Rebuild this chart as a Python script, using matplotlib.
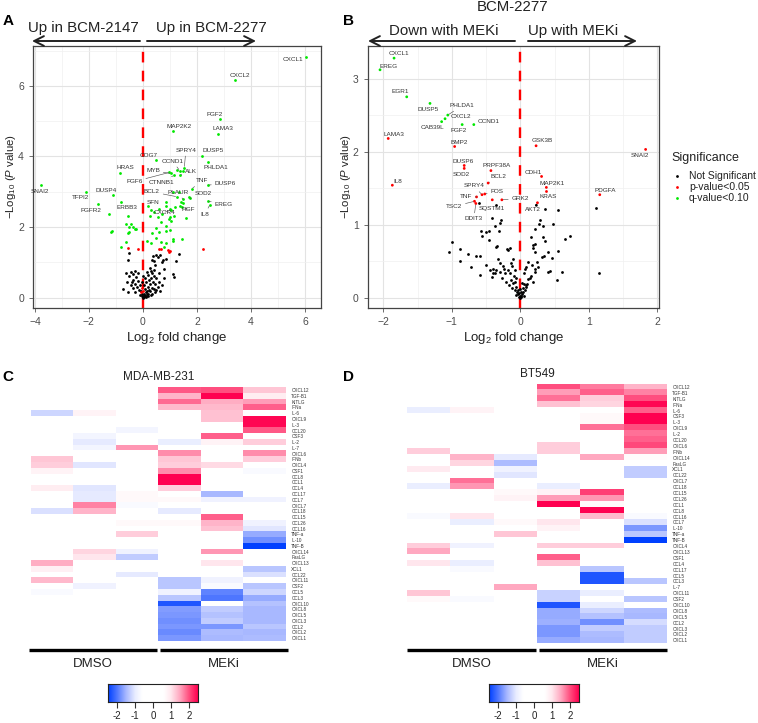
import numpy as np
import matplotlib
matplotlib.use("Agg")
import matplotlib.pyplot as plt
from matplotlib.colors import LinearSegmentedColormap

plt.rcParams['font.family'] = ['Liberation Sans', 'DejaVu Sans']
plt.rcParams['mathtext.fontset'] = 'custom'
plt.rcParams['mathtext.rm'] = 'Liberation Sans'
plt.rcParams['mathtext.it'] = 'Liberation Sans:italic'

# ---------------- Panel A data ----------------
a_lab_names = ['CXCL1', 'CXCL2', 'FGF2', 'MAP2K2', 'LAMA3', 'DUSP5', 'COG7', 'PHLDA1', 'SPRY4', 'CCND1',
               'HRAS', 'MYB', 'ALK', 'FGF6', 'CTNNB1', 'SNAI2', 'TFPI2', 'DUSP4', 'TNF', 'DUSP6',
               'BCL2', 'PLAUR', 'SOD2', 'FGFR2', 'ERBB3', 'SFN', 'HGF', 'CXCR4', 'EREG', 'IL8']
a_lab_x = [6.04, 3.39, 2.86, 1.13, 2.76, 2.20, 0.48, 2.39, 1.53, 1.36,
           -0.85, 1.04, 1.36, 0.98, 1.16, -3.78, -2.11, -1.10, 1.80, 2.39,
           1.26, 1.47, 1.75, -1.68, -0.57, 0.85, 1.46, 1.04, 2.39, 2.48]
a_lab_y = [6.82, 6.16, 5.07, 4.73, 4.65, 4.02, 3.90, 3.83, 3.68, 3.60,
           3.54, 3.52, 3.48, 3.55, 3.47, 3.20, 3.00, 2.92, 3.08, 3.19,
           2.86, 2.80, 2.82, 2.65, 2.32, 2.61, 2.57, 2.48, 2.74, 2.64]
a_lab_tx = [5.54, 3.57, 2.64, 1.34, 2.95, 2.61, 0.20, 2.70, 1.59, 1.10,
            -0.66, 0.37, 1.78, -0.32, 0.67, -3.81, -2.33, -1.35, 2.17, 3.05,
            0.33, 1.30, 2.22, -1.93, -0.61, 0.39, 1.68, 0.79, 2.99, 2.30]
a_lab_ty = [6.75, 6.28, 5.20, 4.84, 4.78, 4.18, 4.02, 3.69, 4.18, 3.87,
            3.68, 3.59, 3.57, 3.29, 3.27, 3.02, 2.84, 3.03, 3.31, 3.23,
            3.00, 2.99, 2.94, 2.46, 2.56, 2.70, 2.50, 2.42, 2.65, 2.37]
a_lab_seg = ['SPRY4', 'CCND1', 'MYB', 'ALK', 'FGF6', 'CTNNB1', 'TNF', 'DUSP6', 'BCL2', 'PLAUR',
             'SOD2', 'HGF', 'CXCR4', 'EREG', 'IL8']

a_green_x = [-0.81, -0.44, -0.35, -0.26, -0.57, -1.13, -1.19, -0.63, -0.81, -1.25, 0.30, 0.42, 0.27, 0.54,
             0.85, 1.00, 1.16, 1.00, 0.67, 0.87, 1.05, 0.48, 0.33, 0.60, 0.85, 1.00, 0.48, 0.30, 0.67, 1.10,
             1.12, 0.87, 1.44, 0.79, 1.41, 1.36, 1.20, 1.59, 1.47, 1.10, 1.33, 1.70, 1.25, 1.47, 0.60, 0.20,
             -0.63, -0.51, -0.29, -0.51, 0.15, 0.72, 0.95]
a_green_y = [2.72, 2.09, 1.99, 1.94, 1.82, 1.90, 1.87, 1.59, 1.45, 2.36, 2.48, 2.44, 2.31, 2.30,
             2.72, 2.50, 2.32, 2.30, 2.15, 2.03, 2.18, 1.97, 1.82, 1.87, 1.90, 1.92, 1.68, 1.56, 1.59, 1.65,
             1.61, 1.56, 1.66, 1.45, 2.72, 2.61, 2.57, 2.25, 2.69, 3.00, 3.00, 2.84, 3.62, 3.58, 2.50, 2.60,
             2.09, 2.01, 1.95, 1.86, 1.62, 2.38, 2.22]
a_red_x = [-0.54, -0.20, 0.59, 0.65, 0.93, 0.99, 2.23, 0.95, -0.05, 0.02, -0.08]
a_red_y = [1.40, 1.37, 1.37, 1.39, 1.36, 1.33, 1.39, 1.30, 0.28, 0.20, 0.15]
a_black_x = [1.34, 1.21, 0.87, 0.73, 0.62, 0.37, 0.33, 0.42, -0.51, -0.57, 0.79, 1.10, 1.15, 0.79, -0.75, -0.63,
             0.48, 0.55, 0.70, 0.45, -0.45, -0.38, -0.30, -0.20, -0.25, -0.35, -0.42, -0.50, -0.28, -0.18,
             -0.12, -0.22, -0.35, -0.45, -0.15, -0.08, -0.30, -0.55, -0.60, 0.15, 0.20, 0.28, 0.35, 0.42, 0.50,
             0.30, 0.22, 0.12, 0.38, 0.46, 0.25, 0.18, 0.32, 0.40, 0.50, 0.55, 0.60, 0.08, 0.10, 0.15, 0.05,
             0.02, 0.08, 0.12, 0.20, 0.25, 0.28, 0.35, 0.22, 0.16, 0.05, -0.02, -0.05, 0.00, 0.03, 0.10, 0.18,
             -0.10, 0.45, 0.62, 0.70, 0.03, -0.03, 0.07, 0.02, 0.40, 0.60, 0.25]
a_black_y = [1.23, 1.03, 1.11, 1.07, 1.21, 1.18, 1.06, 1.03, 1.26, 1.08, 0.82, 0.68, 0.59, 0.56, 0.25, 0.71,
             1.21, 1.15, 1.00, 0.92, 0.72, 0.66, 0.75, 0.70, 0.58, 0.50, 0.45, 0.62, 0.40, 0.48,
             0.35, 0.30, 0.28, 0.35, 0.22, 0.18, 0.15, 0.15, 0.45, 0.72, 0.65, 0.75, 0.70, 0.62, 0.55,
             0.55, 0.50, 0.45, 0.45, 0.38, 0.38, 0.30, 0.28, 0.25, 0.22, 0.30, 0.45, 0.25, 0.15, 0.10, 0.08,
             0.03, 0.05, 0.04, 0.12, 0.18, 0.08, 0.12, 0.22, 0.20, 0.12, 0.05, 0.10, 0.00, 0.01, 0.02, 0.06,
             0.08, 0.15, 0.20, 0.35, 0.35, 0.45, 0.55, 0.62, 0.80, 0.70, 0.85]

# ---------------- Panel B data ----------------
b_lab_names = ['CXCL1', 'EREG', 'EGR1', 'DUSP5', 'PHLDA1', 'CXCL2', 'CAB39L', 'FGF2', 'CCND1',
               'LAMA3', 'BMP2', 'GSK3B', 'SNAI2', 'DUSP6', 'SOD2', 'PRPF38A', 'CDH1', 'IL8', 'BCL2',
               'MAP2K1', 'PDGFA', 'FOS', 'SPRY4', 'TNF', 'GRK2', 'SQSTM1', 'KRAS', 'TSC2', 'DDIT3', 'AKT2']
b_lab_group = ['q'] * 9 + ['p'] * 20 + ['n']
b_lab_x = [-1.845, -2.05, -1.66, -1.32, -1.06, -1.10, -1.15, -0.85, -0.68,
           -1.93, -0.96, 0.23, 1.83, -0.82, -0.82, -0.43, 0.31, -1.87, -0.47,
           0.38, 1.16, -0.52, -0.56, -0.64, -0.27, -0.41, 0.25, -0.67, -0.65, 0.234]
b_lab_y = [3.28, 3.12, 2.75, 2.66, 2.50, 2.45, 2.41, 2.37, 2.37,
           2.18, 2.07, 2.08, 2.03, 1.81, 1.77, 1.74, 1.66, 1.54, 1.57,
           1.51, 1.41, 1.42, 1.41, 1.38, 1.34, 1.34, 1.30, 1.32, 1.29, 1.265]
b_lab_tx = [-1.78, -1.93, -1.76, -1.35, -0.85, -0.87, -1.28, -0.90, -0.46,
            -1.85, -0.89, 0.32, 1.74, -0.83, -0.87, -0.35, 0.19, -1.79, -0.32,
            0.46, 1.24, -0.34, -0.68, -0.80, 0.00, -0.41, 0.40, -0.97, -0.68, 0.19]
b_lab_ty = [3.35, 3.17, 2.82, 2.57, 2.63, 2.48, 2.33, 2.29, 2.41,
            2.24, 2.13, 2.15, 1.95, 1.87, 1.69, 1.81, 1.72, 1.59, 1.66,
            1.57, 1.47, 1.46, 1.53, 1.38, 1.36, 1.22, 1.38, 1.25, 1.08, 1.21]
b_lab_seg = ['PHLDA1', 'BCL2', 'FOS', 'SPRY4', 'TNF', 'GRK2', 'TSC2', 'DDIT3']

b_red_x = [0.38]
b_red_y = [1.46]
b_black_x = [-0.608, -0.350, 0.365, 0.549, 1.099,
             -0.409, -0.277, -0.292, -0.375, -0.317, -0.569, -0.496, -0.463, -0.560, -0.458, -0.993, -1.042,
             -0.886, -0.765, -0.886, -0.653, -0.594, -0.715, -0.594, -0.507, -0.400, -0.375, -0.409, -0.327,
             -0.302, -0.253, -0.244, -0.181, -0.156, -0.196, -0.350, -0.336, -0.108, -0.131, -0.117, -0.083,
             0.282, 0.272, 0.330, 0.476, 0.219, 0.720, 0.657, 0.330, 0.365, 0.161, 0.184, 0.215, 0.184, 0.209,
             0.403, 0.549, 0.345, 0.311, 0.467, 0.248, 0.175, 0.219, 0.209, 0.257, 0.428, 0.403, 0.613, 0.540,
             1.143, 0.111, 0.088, 0.073, 0.048, 0.053, 0.088,
             -0.131, -0.108, -0.083, -0.058, -0.117, -0.083, -0.050, -0.020, -0.035, -0.010, 0.015, 0.029,
             0.038, 0.063, 0.077, 0.096, -0.058, -0.098, -0.146, -0.181, -0.229, -0.263, -0.204, -0.166,
             -0.035, 0.015, 0.038, 0.111, 0.136, 0.161, 0.184, -0.350, -0.400, -0.292, -0.448, 0.000, 0.010,
             -0.020, 0.050, -0.060, 0.030, 0.000]
b_black_y = [1.292, 1.265, 1.219, 1.206, 1.233,
             1.091, 1.060, 1.028, 0.978, 0.914, 0.914, 0.901, 0.914, 0.846, 0.787, 0.764, 0.619,
             0.669, 0.605, 0.505, 0.573, 0.569, 0.423, 0.310, 0.446, 0.387, 0.341, 0.287, 0.524,
             0.478, 0.432, 0.387, 0.651, 0.687, 0.669, 0.696, 0.705, 0.524, 0.469, 0.432, 0.378,
             1.060, 1.015, 0.982, 1.015, 0.946, 0.846, 0.810, 0.832, 0.774, 0.832, 0.719, 0.733, 0.674, 0.628,
             0.619, 0.637, 0.573, 0.551, 0.538, 0.491, 0.446, 0.392, 0.355, 0.423, 0.364, 0.346, 0.355, 0.241,
             0.338, 0.491, 0.423, 0.392, 0.338, 0.183, 0.173,
             0.241, 0.196, 0.218, 0.150, 0.128, 0.105, 0.082, 0.060, 0.050, 0.023, 0.014, 0.050,
             0.082, 0.105, 0.150, 0.183, 0.265, 0.296, 0.333, 0.378, 0.333, 0.265, 0.218, 0.173,
             0.105, 0.082, 0.128, 0.251, 0.265, 0.296, 0.218, 0.378, 0.338, 0.355, 0.378, 0.000, 0.030,
             0.010, 0.030, 0.040, 0.200, 0.120]

# ---------------- Heatmap data ----------------
c_rows = ['CXCL12', 'TGF-B1', 'KITLG', 'IFNa', 'IL-6', 'CXCL9', 'IL-3', 'CCL20', 'CSF3', 'IL-2', 'IL-7',
          'CXCL6', 'IFNb', 'CXCL4', 'CSF1', 'CCL8', 'CCL1', 'CCL4', 'CCL17', 'CCL7', 'CXCL7', 'CCL18',
          'CCL15', 'CCL26', 'CCL16', 'TNF-a', 'IL-10', 'TNF-B', 'CXCL14', 'FasLG', 'CXCL13', 'XCL1',
          'CCL22', 'CXCL11', 'CSF2', 'CCL5', 'CCL3', 'CXCL10', 'CXCL8', 'CXCL5', 'CXCL3', 'CCL2', 'CXCL2', 'CXCL1']
c_vals = [
    [0, 0, 0, 1.95, 2.0, 1.25], [0, 0, 0, 1.4, 2.5, 0.9], [0, 0, 0, 1.85, 1.45, 1.55], [0, 0, 0, 1.35, 1.35, 1.9],
    [-1.2, 0.8, 0, 0, 1.3, 0], [0, 0, 0, 0, 1.3, 2.45], [0, 0, 0, 0, 0, 2.45], [0, 0, -0.8, 0, 0, 1.95],
    [0, -0.8, 0, 0, 1.9, 0], [0, -1.0, 0, -0.95, 0.8, 1.2], [0, -0.8, 1.6, 0, 0, 0], [0, 0, 0, 1.65, 0, 1.65],
    [1.25, 0, 0, 1.25, 0, 1.2], [1.2, -1.05, 0, 1.2, 1.1, 0], [0.8, 0, 0, 1.65, 0, -0.7], [0, 0, 0, 2.5, 0, 0],
    [0, 0, 0, 2.5, 0, 0], [0.9, -1.05, 0, 1.2, 0, 0], [0, -1.0, 0.7, 0, -1.5, 0], [0, -1.0, 0.7, 0.7, -0.85, -0.85],
    [0, 1.7, -0.7, 0, 0, 0], [-1.1, 1.4, 0, -1.0, 0, 0], [0, 0, 0, 0, 1.9, 0], [0, 0, 0.7, 0.7, 1.4, -0.85],
    [0, 0, 0, 0, 1.3, -1.05], [0, 0, 1.2, 0, 0, -1.6], [0, 0, 0, 0, 0, -1.8], [0, 0, 0, 0, 0, -2.5],
    [0, 1.15, -0.85, 0, 1.6, 0], [0, 1.0, -1.3, 0, 0, 0], [1.45, 0, 0, 0, 1.0, 0], [0.85, 0, 0, 0, 0, -1.35],
    [0, 0, -1.0, 0, 0, -1.1], [1.35, 0, 0, -1.35, -0.85, 0], [0, -0.85, 0, -1.35, -0.7, -1.35],
    [-0.7, 0, 0, -0.85, -1.9, -1.2], [0, 0, 0, -1.35, -2.0, -1.6], [0, 0, 0, -2.3, 0, -1.4],
    [0, 0, 0, -1.7, -1.3, -1.5], [0, 0, 0, -1.75, -1.4, -1.5], [0, 0, 0, -1.8, -1.3, -1.5],
    [0, 0, 0, -1.75, -1.75, -1.35], [0, 0, 0, -1.85, -1.45, -1.5], [0, 0, 0, -1.75, -1.5, -1.45]]

d_rows = ['CXCL12', 'TGF-B1', 'KITLG', 'IFNa', 'IL-6', 'CSF3', 'IL-3', 'CXCL9', 'IL-2', 'CCL20', 'CXCL6',
          'IFNb', 'CXCL14', 'FasLG', 'XCL1', 'CCL22', 'CXCL7', 'CCL18', 'CCL15', 'CCL26', 'CCL1', 'CCL8',
          'CCL16', 'CCL7', 'IL-10', 'TNF-a', 'TNF-B', 'CXCL4', 'CXCL13', 'CSF1', 'CCL4', 'CCL17', 'CCL5',
          'CCL3', 'IL-7', 'CXCL11', 'CSF2', 'CXCL10', 'CXCL8', 'CXCL5', 'CCL2', 'CXCL3', 'CXCL2', 'CXCL1']
d_vals = [
    [0, 0, 0, 2.0, 1.75, 1.4], [0, 0, 0, 1.55, 1.9, 1.7], [0, 0, 0, 1.8, 1.2, 2.0], [0, 0, 0, 1.3, 1.15, 2.45],
    [-0.95, 0.8, 0, 0, 0, 1.9], [0, 0, 0, 0, 0.7, 2.5], [0, 0, 0, 0, 0.7, 2.5], [0, 0, 0, 0, 1.8, 2.0],
    [0, 0.6, 0, -0.6, 0, 1.8], [0, 0, 0, 0, 0, 1.9], [0, 0, 0, 1.2, 0, 2.05], [1.2, 0, 0, 1.2, 0, 1.55],
    [0, 1.4, -1.0, 0, 1.5, 0.65], [0, 1.15, -1.45, 0, 0, 0], [0.95, 0, -0.85, 0, 0, -1.3], [0, 0, -1.05, 0, 0, -1.3],
    [0, 1.8, -0.6, 0, 0, 0], [-0.95, 1.6, 0, -0.95, 0, 0], [0, 0, 0.7, 0.8, 2.1, 0], [0, 0, 0.8, 1.55, 1.6, 0],
    [0, 0, 0, 2.5, 0.7, 0], [0, 0, 0, 0, 2.5, 0], [-0.7, 1.0, 0, 0, 1.35, -0.7], [0, -0.95, 0.7, 1.0, 0, -1.1],
    [0, 0, 0, 0.8, 0, -1.75], [0, 0, 1.25, 0, 0, -1.35], [0, 0, 0, 0, 0, -2.5], [1.2, -0.85, 0, 1.2, 1.2, 0],
    [1.5, 0, 0, 0, 0, 0], [0, 0, 0, 1.9, 0, 0], [1.0, -0.95, 0, 1.3, 0, 0], [0, -0.7, 0.6, 0, -1.35, 0],
    [0, 0, 0, 0, -2.3, 0], [0, 0, 0, 0, -2.3, -1.35], [0, -0.6, 1.5, 0, 0, 0], [1.25, 0, 0, -1.25, -0.95, 0],
    [0.7, -0.7, 0, -1.25, 0, -1.35], [0, 0, 0, -2.3, -0.95, 0], [0, 0, 0, -1.6, -1.2, -1.45],
    [0, 0, 0, -1.6, -1.4, -1.5], [0, 0, 0, -1.55, -1.8, -1.15], [0, 0, 0, -1.75, -1.3, -1.3],
    [0, 0, 0, -1.75, -1.45, -1.3], [0, 0, 0, -1.6, -1.5, -1.3]]
group_names = ['DMSO', 'MEKi']
cbar_ticks = [-2, -1, 0, 1, 2]

# ---------------- styling ----------------
W, H = 758, 723
fig = plt.figure(figsize=(W / 100, H / 100), dpi=100)


def rect(l, t, r, b):
    return [l / W, 1 - b / H, (r - l) / W, (b - t) / H]


GREEN = '#00E800'
RED = '#FF0000'
TXT = '#333333'
DOT = 4

cmap = LinearSegmentedColormap.from_list('bwr_custom', [
    (0.00, '#0040FF'), (0.10, '#5078FF'), (0.20, '#A8B8FF'), (0.30, '#E8ECFF'), (0.38, '#FFFFFF'),
    (0.62, '#FFFFFF'), (0.70, '#FFE8EE'), (0.80, '#FFA8C0'), (0.90, '#FF5080'), (1.00, '#FF0050')])


def style_volcano(ax, xt, xminor, yt, yminor):
    ax.set_xticks(xt)
    ax.set_xticks(xminor, minor=True)
    ax.set_yticks(yt)
    ax.set_yticks(yminor, minor=True)
    ax.grid(True, which='major', color='#E3E3E3', lw=0.8)
    ax.grid(True, which='minor', color='#F0F0F0', lw=0.5)
    ax.set_axisbelow(True)
    for s in ax.spines.values():
        s.set_color('#444444')
        s.set_linewidth(0.9)
    ax.tick_params(which='major', length=3, width=0.6, color='#555555', labelsize=7.5, labelcolor='#4D4D4D')
    ax.tick_params(which='minor', length=0)
    ax.axvline(0, color='#FF0000', lw=1.7, ls=(0, (4.5, 3.5)), zorder=2)
    ax.set_xlabel('Log$_2$ fold change', fontsize=9.5, color='#222222', labelpad=2)
    ax.set_ylabel(r'$-$Log$_{10}$ ($\mathit{P}$ value)', fontsize=8.2, color='#222222', labelpad=3)


def draw_labels(ax, names, px, py, tx, ty, segs):
    for n, x, y, lx, ly in zip(names, px, py, tx, ty):
        if n in segs:
            ax.annotate(n, xy=(x, y), xytext=(lx, ly), fontsize=4.6, color=TXT, ha='center', va='center',
                        arrowprops=dict(arrowstyle='-', color='#555555', lw=0.45, shrinkA=0.5, shrinkB=1),
                        zorder=5)
        else:
            ax.text(lx, ly, n, fontsize=4.6, color=TXT, ha='center', va='center', zorder=5)


# Panel A
axA = fig.add_axes(rect(33, 45.6, 320.7, 308))
axA.set_xlim(-4.07, 6.58)
axA.set_ylim(-0.29, 7.14)
style_volcano(axA, [-4, -2, 0, 2, 4, 6], [-3, -1, 1, 3, 5], [0, 2, 4, 6], [1, 3, 5, 7])
axA.scatter(a_black_x, a_black_y, s=DOT, c='black', lw=0, zorder=3)
axA.scatter(a_red_x, a_red_y, s=DOT, c=RED, lw=0, zorder=3)
axA.scatter(a_green_x, a_green_y, s=DOT, c=GREEN, lw=0, zorder=3)
axA.scatter(a_lab_x, a_lab_y, s=DOT, c=GREEN, lw=0, zorder=3)
draw_labels(axA, a_lab_names, a_lab_x, a_lab_y, a_lab_tx, a_lab_ty, a_lab_seg)
axA.yaxis.set_label_coords(-0.052, 0.5)

# Panel B
axB = fig.add_axes(rect(367.7, 45.7, 659.3, 308.3))
axB.set_xlim(-2.23, 2.03)
axB.set_ylim(-0.145, 3.45)
style_volcano(axB, [-2, -1, 0, 1, 2], [-1.5, -0.5, 0.5, 1.5], [0, 1, 2, 3], [0.5, 1.5, 2.5])
axB.scatter(b_black_x, b_black_y, s=DOT, c='black', lw=0, zorder=3)
axB.scatter(b_red_x, b_red_y, s=DOT, c=RED, lw=0, zorder=3)
colmap = {'q': GREEN, 'p': RED, 'n': 'black'}
axB.scatter(b_lab_x, b_lab_y, s=DOT, c=[colmap[g] for g in b_lab_group], lw=0, zorder=3)
draw_labels(axB, b_lab_names, b_lab_x, b_lab_y, b_lab_tx, b_lab_ty, b_lab_seg)
axB.yaxis.set_label_coords(-0.052, 0.5)


# Heatmaps
def heatmap(l, t, r, b, rows, vals, title, cbar_rect):
    ax = fig.add_axes(rect(l, t, r, b))
    data = np.array(vals, dtype=float)
    ax.imshow(data, cmap=cmap, vmin=-2.5, vmax=2.5, aspect='auto', interpolation='nearest')
    ax.set_xticks([])
    ax.set_yticks(range(len(rows)))
    ax.set_yticklabels(rows, fontsize=3.3, color='#333333')
    ax.yaxis.tick_right()
    ax.tick_params(axis='y', length=0, pad=4)
    for s in ax.spines.values():
        s.set_visible(False)
    ax.set_title(title, fontsize=8.5, color='#222222', pad=5)
    cax = fig.add_axes(rect(*cbar_rect))
    grad = np.linspace(-2.5, 2.5, 256).reshape(1, -1)
    cax.imshow(grad, cmap=cmap, vmin=-2.5, vmax=2.5, aspect='auto', extent=(-2.5, 2.5, 0, 1))
    cax.set_yticks([])
    cax.set_xticks(cbar_ticks)
    cax.set_xticklabels([str(v) if v >= 0 else '-' + str(-v) for v in cbar_ticks], fontsize=7, color='#222222')
    cax.tick_params(axis='x', length=4, width=0.8, color='#333333', pad=2.5)
    for s in cax.spines.values():
        s.set_linewidth(0.8)
        s.set_color('#222222')
    return ax


heatmap(31.3, 387.3, 285.7, 641, c_rows, c_vals, 'MDA-MB-231', (108, 684, 198, 702))
heatmap(407.3, 384, 666.7, 643.3, d_rows, d_vals, 'BT549', (489, 684, 579, 702))

# Overlay for annotations
ov = fig.add_axes([0, 0, 1, 1])
ov.set_xlim(0, W)
ov.set_ylim(H, 0)
ov.axis('off')
ov.patch.set_visible(False)

arrow_kw = dict(arrowstyle='->,head_length=0.7,head_width=0.35', color='#222222', lw=1.4,
                shrinkA=0, shrinkB=0)
# Panel A arrows
ov.annotate('', xy=(32, 41), xytext=(140, 41), arrowprops=arrow_kw)
ov.annotate('', xy=(256, 41), xytext=(147, 41), arrowprops=arrow_kw)
ov.text(83, 28, 'Up in BCM-2147', fontsize=10.8, ha='center', va='center', color='#222222')
ov.text(211, 28, 'Up in BCM-2277', fontsize=10.8, ha='center', va='center', color='#222222')
# Panel B arrows & title
ov.annotate('', xy=(368, 41), xytext=(515, 41), arrowprops=arrow_kw)
ov.annotate('', xy=(637, 41), xytext=(528, 41), arrowprops=arrow_kw)
ov.text(444, 31, 'Down with MEKi', fontsize=10.8, ha='center', va='center', color='#222222')
ov.text(573, 31, 'Up with MEKi', fontsize=10.8, ha='center', va='center', color='#222222')
ov.text(513, 7, 'BCM-2277', fontsize=10.8, ha='center', va='center', color='#222222')

# Legend
ov.text(671, 158, 'Significance', fontsize=9, ha='left', va='center', color='#222222')
leg_labels = ['Not Significant', 'p-value<0.05', 'q-value<0.10']
leg_colors = ['black', RED, GREEN]
for i, (lab, col) in enumerate(zip(leg_labels, leg_colors)):
    yy = 176 + i * 10.8
    ov.scatter([677], [yy], s=DOT, c=col, lw=0)
    ov.text(689, yy, lab, fontsize=7.5, ha='left', va='center', color='#222222')

# Panel letters
for lab, x, y in [('A', 8, 21), ('B', 348, 21), ('C', 8, 377), ('D', 348, 377)]:
    ov.text(x, y, lab, fontsize=11, fontweight='bold', ha='center', va='center', color='black')

# Group bars under heatmaps
for (x0, x1, x2, x3) in [(29, 157, 160, 288), (407, 536, 539, 667)]:
    ov.plot([x0, x1], [650, 650], color='black', lw=2.4, solid_capstyle='butt')
    ov.plot([x2, x3], [650, 650], color='black', lw=2.4, solid_capstyle='butt')
    ov.text((x0 + x1) / 2, 664, group_names[0], fontsize=9.5, ha='center', va='center', color='#222222')
    ov.text((x2 + x3) / 2, 664, group_names[1], fontsize=9.5, ha='center', va='center', color='#222222')

fig.savefig('out.png', dpi=100)
